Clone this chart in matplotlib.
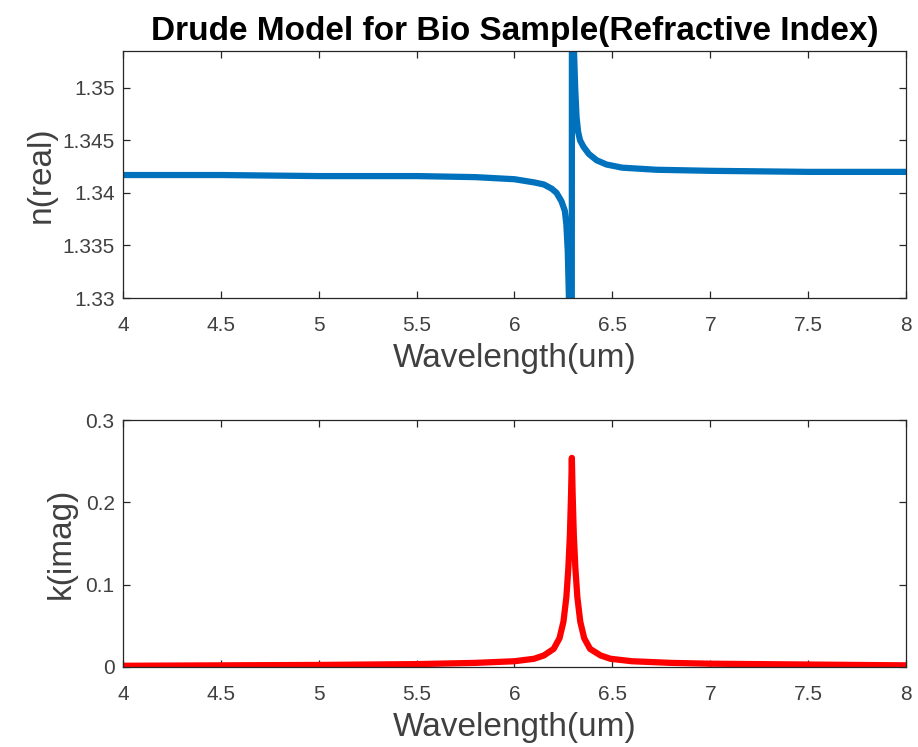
import matplotlib
matplotlib.use("Agg")
import matplotlib.pyplot as plt

plt.rcParams['font.family'] = ['Liberation Sans', 'DejaVu Sans']

# Data
wl_n = [4.0, 4.5, 5.0, 5.5, 5.8, 6.0, 6.1, 6.15, 6.19, 6.215, 6.24, 6.257, 6.265,
        6.272, 6.278, 6.283, 6.287, 6.290, 6.293, 6.296, 6.300, 6.304, 6.310,
        6.317, 6.325, 6.335, 6.352, 6.38, 6.42, 6.47, 6.55, 6.726, 7.0, 7.5, 8.0]
n_real = [1.3417, 1.3417, 1.3416, 1.3416, 1.3415, 1.3413, 1.3410, 1.3408, 1.3404,
          1.3400, 1.3392, 1.3383, 1.3370, 1.3345, 1.3300, 1.2800, 1.2500, 1.2200,
          1.3420, 1.4600, 1.3900, 1.3535, 1.3500, 1.3472, 1.3458, 1.3450, 1.3444,
          1.3437, 1.3431, 1.3427, 1.3424, 1.3422, 1.3421, 1.3420, 1.3420]

wl_k = [4.0, 4.5, 5.0, 5.5, 5.8, 6.0, 6.1, 6.15, 6.2, 6.23, 6.25, 6.265, 6.275,
        6.283, 6.289, 6.293, 6.297, 6.303, 6.311, 6.321, 6.336, 6.356, 6.386,
        6.44, 6.49, 6.6, 6.8, 7.0, 7.5, 8.0]
k_imag = [0.0015, 0.002, 0.0025, 0.0035, 0.005, 0.007, 0.010, 0.014, 0.022, 0.035,
          0.055, 0.085, 0.12, 0.16, 0.21, 0.254, 0.21, 0.16, 0.12, 0.085, 0.055,
          0.035, 0.022, 0.014, 0.010, 0.007, 0.005, 0.004, 0.003, 0.002]

xticks = [4, 4.5, 5, 5.5, 6, 6.5, 7, 7.5, 8]
xticklabels = ['4', '4.5', '5', '5.5', '6', '6.5', '7', '7.5', '8']
nticks = [1.33, 1.335, 1.34, 1.345, 1.35]
nticklabels = ['1.33', '1.335', '1.34', '1.345', '1.35']
kticks = [0, 0.1, 0.2, 0.3]
kticklabels = ['0', '0.1', '0.2', '0.3']

W, H = 918, 747
fig = plt.figure(figsize=(W / 100, H / 100), dpi=100)

def pos(l, t, r, b):
    return [l / W, 1 - b / H, (r - l) / W, (b - t) / H]

ax1 = fig.add_axes(pos(123, 51, 906, 298))
ax2 = fig.add_axes(pos(123, 420, 906, 667))

gray = '#262626'
txtgray = '#404040'
for ax in (ax1, ax2):
    for s in ax.spines.values():
        s.set_color(gray)
        s.set_linewidth(0.9)
    ax.tick_params(direction='in', length=5, width=0.9, color=gray,
                   labelcolor=txtgray, top=True, right=True, labelsize=15)
    ax.tick_params(axis='x', pad=13)
    ax.tick_params(axis='y', pad=6)
    ax.set_xlim(4, 8)
    ax.set_xticks(xticks)
    ax.set_xticklabels(xticklabels)
    ax.set_xlabel('Wavelength(um)', fontsize=24, color=txtgray, labelpad=6)

ax1.plot(wl_n, n_real, color='#0072BD', lw=4.5, solid_capstyle='butt')
ax1.set_ylim(1.33, 1.3535)
ax1.set_yticks(nticks)
ax1.set_yticklabels(nticklabels)
ax1.set_ylabel('n(real)', fontsize=24, color=txtgray, labelpad=4)
ax1.set_title('Drude Model for Bio Sample(Refractive Index)', fontsize=24,
              fontweight='bold', color='black', pad=8)

ax2.plot(wl_k, k_imag, color='#FF0000', lw=4.5, solid_capstyle='butt')
ax2.set_ylim(0, 0.3)
ax2.set_yticks(kticks)
ax2.set_yticklabels(kticklabels)
ax2.set_ylabel('k(imag)', fontsize=24, color=txtgray, labelpad=6)

fig.savefig('out.png', dpi=100)
